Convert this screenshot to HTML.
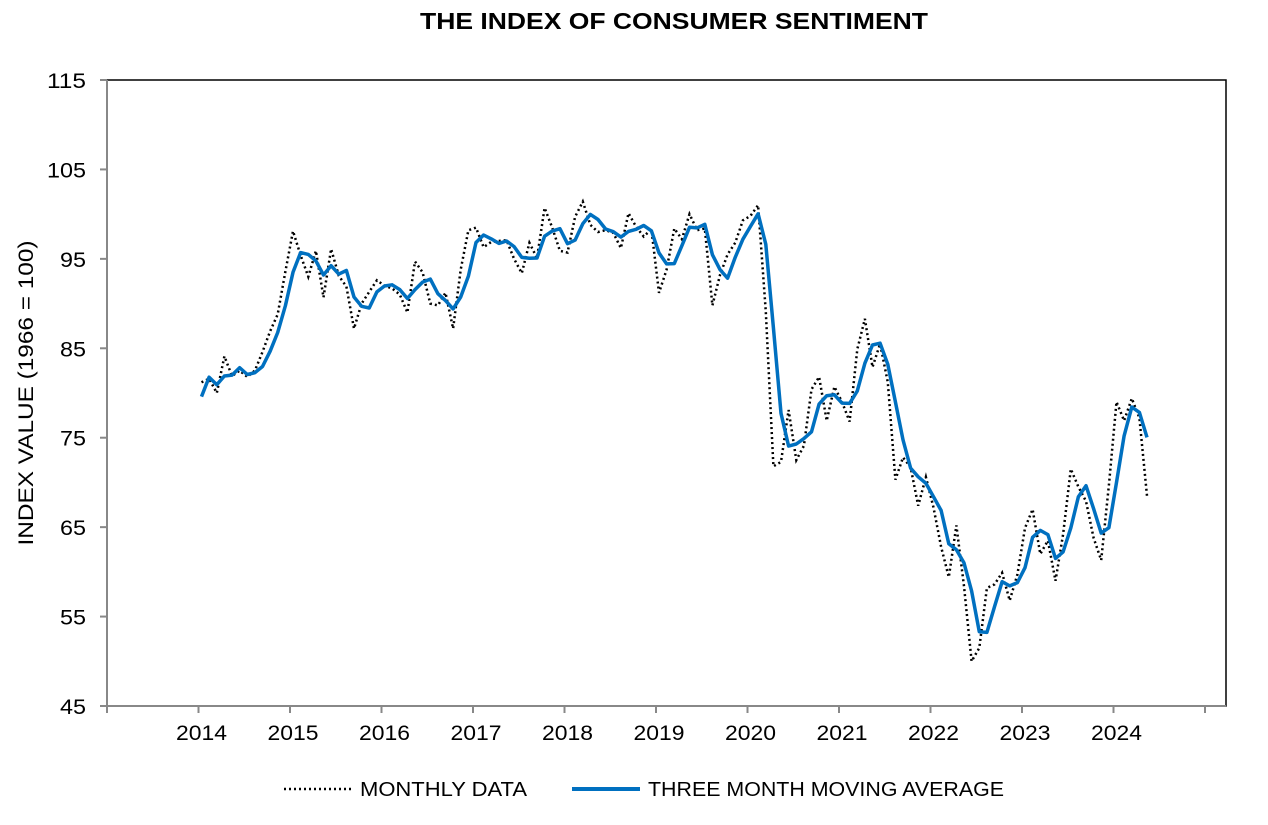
<!DOCTYPE html>
<html><head><meta charset="utf-8"><style>
body{margin:0;background:#fff;}
svg text{font-family:"Liberation Sans",Arial,sans-serif;fill:#000;}
</style></head><body>
<svg width="1268" height="820" viewBox="0 0 1268 820">
<text x="420" y="29" font-size="23" font-weight="bold" textLength="508" lengthAdjust="spacingAndGlyphs">THE INDEX OF CONSUMER SENTIMENT</text>
<text transform="translate(33,393) rotate(-90)" text-anchor="middle" font-size="21" textLength="305" lengthAdjust="spacingAndGlyphs">INDEX VALUE (1966 = 100)</text>
<g id="grid"></g>
<g id="series"></g>
<g>
<line x1="284" y1="789" x2="352" y2="789" stroke="#000" stroke-width="2.5" stroke-dasharray="2,3"/>
<text x="360" y="796" font-size="20" textLength="167" lengthAdjust="spacingAndGlyphs">MONTHLY DATA</text>
<line x1="572" y1="789" x2="640" y2="789" stroke="#0070C0" stroke-width="4"/>
<text x="648" y="796" font-size="20" textLength="356" lengthAdjust="spacingAndGlyphs">THREE MONTH MOVING AVERAGE</text>
</g>
</svg>
<script>
const yTicks=[45,55,65,75,85,95,105,115];
const years=[2014,2015,2016,2017,2018,2019,2020,2021,2022,2023,2024];
const prior=[75.1,82.5];
const monthly=[
81.2,81.6,80.0,84.1,81.9,82.5,81.8,82.5,84.6,86.9,88.8,93.6,
98.1,95.4,93.0,95.9,90.7,96.1,93.1,91.9,87.2,90.0,91.3,92.6,
92.0,91.7,91.0,89.0,94.7,93.5,90.0,89.8,91.2,87.2,93.8,98.2,
98.5,96.3,96.9,97.0,97.1,95.0,93.4,96.8,95.1,100.7,98.5,95.9,
95.7,99.7,101.4,98.8,98.0,98.2,97.9,96.2,100.1,98.6,97.5,98.3,
91.2,93.8,98.4,97.2,100.0,98.2,98.4,89.8,93.2,95.5,96.8,99.3,
99.8,101.0,89.1,71.8,72.3,78.1,72.5,74.1,80.4,81.8,76.9,80.7,
79.0,76.8,84.9,88.3,82.9,85.5,81.2,70.3,72.8,71.7,67.4,70.6,
67.2,62.8,59.4,65.2,58.4,50.0,51.5,58.2,58.6,59.9,56.8,59.7,
64.9,67.0,62.0,63.5,59.0,64.2,71.5,69.5,67.9,63.8,61.3,69.7,
79.0,76.9,79.4,77.2,68.5];
const NS="http://www.w3.org/2000/svg";
const L=107,R=1226,T=80,B=706;
const x=t=>107+(t-2013)*91.5;
const y=v=>T+(115-v)*(B-T)/70;
function mk(tag,attrs,parent){const e=document.createElementNS(NS,tag);for(const k in attrs)e.setAttribute(k,attrs[k]);parent.appendChild(e);return e;}
const g=document.getElementById('grid');
let e=mk('rect',{x:L,y:T,width:R-L,height:B-T,fill:'none',stroke:'#000','stroke-width':1.5},g);


e=mk('line',{x1:L,y1:T,x2:L,y2:B,stroke:'#888','stroke-width':2},g);


e=mk('line',{x1:L,y1:B,x2:R,y2:B,stroke:'#888','stroke-width':2},g);


yTicks.forEach(v=>{
 mk('line',{x1:L-7,y1:y(v),x2:L,y2:y(v),stroke:'#888','stroke-width':2},g);
 const s=String(v);
 const t=mk('text',{x:86,y:y(v)+8,'text-anchor':'end','font-size':21,textLength:s.length*13,lengthAdjust:'spacingAndGlyphs'},g);
 t.textContent=s;
 
 
});
for(let yr=2013;yr<=2025;yr++){mk('line',{x1:x(yr),y1:B,x2:x(yr),y2:B+7,stroke:'#888','stroke-width':2},g);}
years.forEach(yr=>{
 const t=mk('text',{x:x(yr)+3,y:B+34,'text-anchor':'middle','font-size':21,textLength:51,lengthAdjust:'spacingAndGlyphs'},g);
 t.textContent=yr;
 
 
});
const s=document.getElementById('series');
const all=prior.concat(monthly);
const mx=i=>x(2014+i/12)+3;
let d1=monthly.map((v,i)=>(i?'L':'M')+mx(i).toFixed(1)+' '+y(v).toFixed(1)).join(' ');
e=mk('path',{d:d1,fill:'none',stroke:'#000','stroke-width':2.5,'stroke-dasharray':'2,3'},s);


let d2=monthly.map((v,i)=>{const a=(all[i]+all[i+1]+all[i+2])/3;return (i?'L':'M')+mx(i).toFixed(1)+' '+y(a).toFixed(1);}).join(' ');
e=mk('path',{d:d2,fill:'none',stroke:'#0070C0','stroke-width':3.5,'stroke-linejoin':'round'},s);


</script>
</body></html>
